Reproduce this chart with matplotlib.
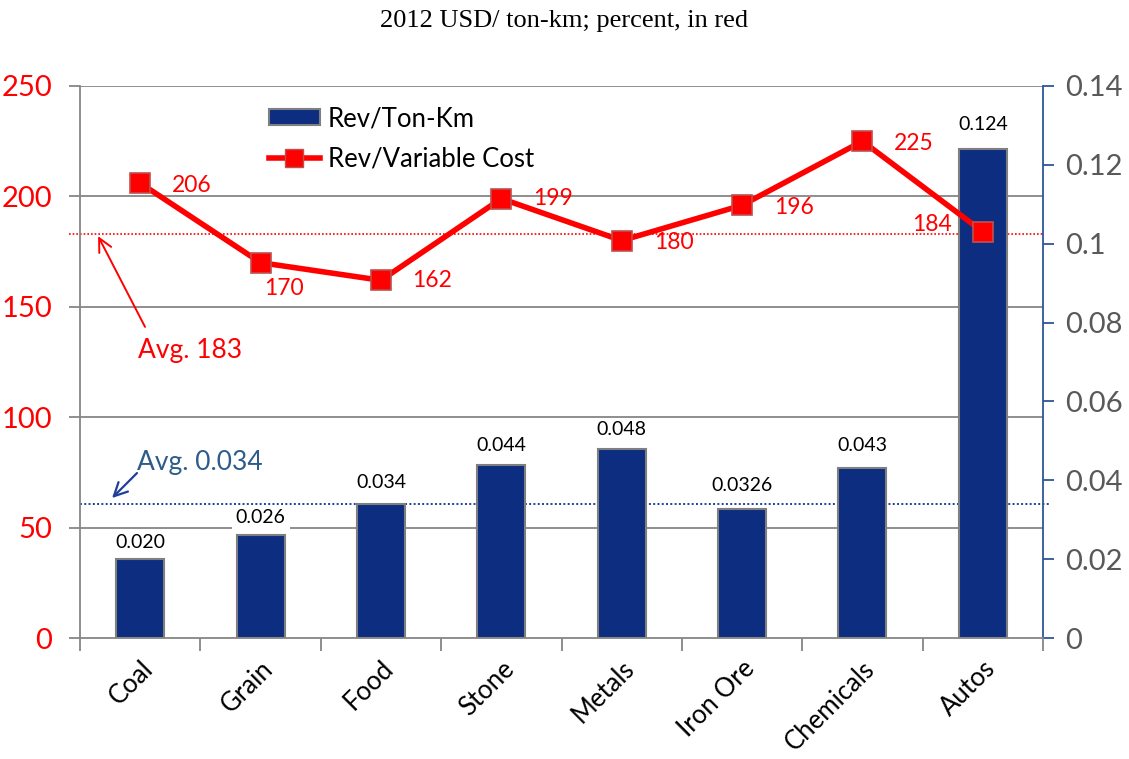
import numpy as np
import matplotlib
matplotlib.use("Agg")
import matplotlib.pyplot as plt
from matplotlib.lines import Line2D
from matplotlib.patches import Patch
import matplotlib.transforms as mtransforms

categories = ["Coal", "Grain", "Food", "Stone", "Metals", "Iron Ore", "Chemicals", "Autos"]
rev_ton_km = [0.020, 0.026, 0.034, 0.044, 0.048, 0.0326, 0.043, 0.124]
rev_ton_km_labels = ["0.020", "0.026", "0.034", "0.044", "0.048", "0.0326", "0.043", "0.124"]
rev_var_cost = [206, 170, 162, 199, 180, 196, 225, 184]
avg_cost = 183
avg_ton_km = 0.034
left_ticks = [0, 50, 100, 150, 200, 250]
right_ticks = [0, 0.02, 0.04, 0.06, 0.08, 0.10, 0.12, 0.14]
right_tick_labels = ["0", "0.02", "0.04", "0.06", "0.08", "0.1", "0.12", "0.14"]

FONT = ["Lato", "DejaVu Sans"]
plt.rcParams['font.family'] = FONT

RED = "#FF0000"
NAVY = "#0D2D80"
GRAY = "#868686"
BLUE_AX = "#2F5597"

fig = plt.figure(figsize=(11.29, 7.59), dpi=100)
ax2 = fig.add_axes([0.0709, 0.1594, 0.8529, 0.7273])
ax = ax2.twinx()
ax.yaxis.tick_left()
ax.yaxis.set_label_position("left")
ax2.yaxis.tick_right()
ax.set_zorder(ax2.get_zorder() + 1)
ax.patch.set_visible(False)

x = np.arange(len(categories))
ax2.set_xlim(-0.5, len(categories) - 0.5)
ax.set_ylim(0, 250)
ax2.set_ylim(0, 0.14)

# gridlines (drawn behind bars, in left-axis units)
blend = mtransforms.blended_transform_factory(ax2.transAxes, ax.transData)
for t in left_ticks[1:]:
    ax2.add_line(Line2D([0, 1], [t, t], transform=blend, color=GRAY, lw=1.3, zorder=0.5))

# average lines
ax2.add_line(Line2D([-0.011, 1], [avg_cost, avg_cost], transform=blend, color=RED,
                    lw=1.2, ls=(0, (1, 1.2)), zorder=0.6, clip_on=False))
ax2.add_line(Line2D([0, 1.008], [avg_ton_km, avg_ton_km],
                    transform=mtransforms.blended_transform_factory(ax2.transAxes, ax2.transData),
                    color="#1F3F99", lw=1.4, ls=(0, (1, 1.2)), zorder=0.6, clip_on=False))

# bars
ax2.bar(x, rev_ton_km, width=0.4, color=NAVY, edgecolor="#7F7F7F", lw=1.5, zorder=2)
bar_offsets = [17, 18, 21, 19, 19, 24, 23, 25]
for xi, v, lab, off in zip(x, rev_ton_km, rev_ton_km_labels, bar_offsets):
    kw = {}
    if lab == "0.026":
        kw["bbox"] = dict(facecolor="white", edgecolor="none", pad=3)
    ax2.annotate(lab, (xi, v), xytext=(0, off), textcoords="offset pixels",
                 ha="center", va="center", fontsize=14, color="black", zorder=3, **kw)

# line
ax.plot(x, rev_var_cost, color=RED, lw=4, marker="s", ms=15, mfc=RED,
        mec="#C0504D", mew=1.2, zorder=5, clip_on=False)
line_offsets = [(52, -2), (23, -26), (51, 0), (52, 0), (52, -2), (52, -2), (51, -2), (-51, 7)]
for xi, v, (dx, dy) in zip(x, rev_var_cost, line_offsets):
    ax.annotate(str(v), (xi, v), xytext=(dx, dy), textcoords="offset pixels",
                ha="center", va="center", fontsize=16.5, color=RED, zorder=6)

# average annotations
ax.annotate("", xy=(-0.35, 182), xytext=(0.04, 140.9),
            arrowprops=dict(arrowstyle="->", color=RED, lw=1.4, shrinkA=0, shrinkB=0,
                            mutation_scale=24))
ax.text(0.414, 130.4, "Avg. 183", color=RED, fontsize=19, ha="center", va="center")
ax.annotate("", xy=(-0.234, 63.4), xytext=(-0.027, 74.7),
            arrowprops=dict(arrowstyle="->", color="#1F3F99", lw=1.6, shrinkA=0, shrinkB=0,
                            mutation_scale=24))
ax.text(0.497, 79.7, "Avg. 0.034", color="#2E5C8A", fontsize=19, ha="center", va="center")

# axes styling
for a in (ax, ax2):
    a.spines["top"].set_visible(False)
ax.spines["left"].set_color(GRAY)
ax.spines["left"].set_linewidth(1.3)
ax.spines["bottom"].set_visible(False)
ax.spines["right"].set_visible(False)
ax2.spines["left"].set_visible(False)
ax2.spines["bottom"].set_color(GRAY)
ax2.spines["bottom"].set_linewidth(1.3)
ax2.spines["right"].set_color(BLUE_AX)
ax2.spines["right"].set_linewidth(1.3)

ax.set_yticks(left_ticks)
ax.set_yticklabels([str(t) for t in left_ticks])
ax.tick_params(axis="y", colors=GRAY, labelcolor=RED, labelsize=21, length=8, width=1.3,
               direction="out", pad=12)
ax2.set_yticks(right_ticks)
ax2.set_yticklabels(right_tick_labels)
ax2.tick_params(axis="y", colors=BLUE_AX, labelcolor="#595959", labelsize=21, length=8,
                width=1.3, direction="out", pad=8)

ax2.set_xticks(np.arange(-0.5, len(categories), 1))
ax2.set_xticklabels([""] * (len(categories) + 1))
ax2.tick_params(axis="x", which="major", colors=GRAY, length=9, width=1.3, direction="out")
ax2.set_xticks(x, minor=True)
ax2.set_xticklabels(categories, minor=True, rotation=45, ha="right", rotation_mode="anchor",
                    fontsize=18.5, color="black")
ax2.tick_params(axis="x", which="minor", length=0, pad=13)

# legend
handles = [Patch(facecolor=NAVY, edgecolor="#7F7F7F", lw=1.5, label="Rev/Ton-Km"),
           Line2D([], [], color=RED, lw=4, marker="s", ms=13, mfc=RED, mec="#C0504D",
                  label="Rev/Variable Cost")]
ax.legend(handles=handles, loc="upper left", bbox_to_anchor=(0.172, 1.005), frameon=False,
          fontsize=18.5, handlelength=2.0, handleheight=0.6, labelspacing=0.6, handletextpad=0.3)

fig.text(0.5, 0.972, "2012 USD/ ton-km; percent, in red", ha="center", va="center",
         fontsize=19, family=["Liberation Serif", "DejaVu Serif"])

fig.savefig("out.png", dpi=100)
